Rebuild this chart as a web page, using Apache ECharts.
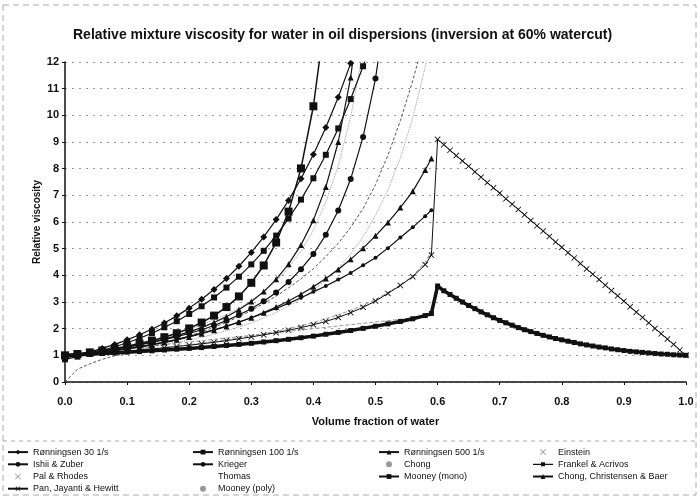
<!DOCTYPE html>
<html>
<head>
<meta charset="utf-8">
<script src="https://cdn.jsdelivr.net/npm/echarts@6/dist/echarts.min.js"></script>
<style>
  html, body { margin: 0; padding: 0; background: #fff; }
  #chart { width: 697px; height: 498px; }
</style>
</head>
<body>
<div id="chart"></div>
<script>
// volume fraction of water, water-in-oil side and oil-in-water side
const phiWO = [0, 0.02, 0.04, 0.06, 0.08, 0.1, 0.12, 0.14, 0.16, 0.18, 0.2, 0.22, 0.24, 0.26, 0.28, 0.3,
  0.32, 0.34, 0.36, 0.38, 0.4, 0.42, 0.44, 0.46, 0.48, 0.5, 0.52, 0.54, 0.56, 0.58, 0.59];
const phiOW = [0.6, 0.61, 0.62, 0.63, 0.64, 0.65, 0.66, 0.67, 0.68, 0.69, 0.7, 0.71, 0.72, 0.73, 0.74,
  0.75, 0.76, 0.77, 0.78, 0.79, 0.8, 0.81, 0.82, 0.83, 0.84, 0.85, 0.86, 0.87, 0.88, 0.89, 0.9,
  0.91, 0.92, 0.93, 0.94, 0.95, 0.96, 0.97, 0.98, 0.99, 1.0];

// relative viscosity
const ronningsen30 = [0.90, 1.01, 1.13, 1.26, 1.41, 1.58, 1.77, 1.98, 2.21, 2.48, 2.77, 3.10, 3.47, 3.88,
  4.34, 4.86, 5.44, 6.09, 6.81, 7.62, 8.53, 9.54, 10.68, 11.95, 13.37];
const ronningsen100 = [0.85, 0.95, 1.06, 1.18, 1.32, 1.47, 1.64, 1.83, 2.05, 2.28, 2.55, 2.84, 3.17, 3.54,
  3.95, 4.41, 4.92, 5.49, 6.13, 6.84, 7.64, 8.52, 9.51, 10.61, 11.84, 13.22];
const ronningsen500 = [0.95, 1.0, 1.05, 1.11, 1.17, 1.24, 1.31, 1.39, 1.48, 1.58, 1.69, 1.81, 1.94, 2.08,
  2.24, 2.41, 2.6, 2.81, 3.04, 3.29, 3.57, 3.88, 4.22, 4.6, 5.02, 5.48, 5.98, 6.54, 7.15, 7.95, 8.38];
const einstein = [1.0, 1.05, 1.1, 1.15, 1.2, 1.25, 1.3, 1.35, 1.4, 1.45, 1.5, 1.55, 1.6, 1.65, 1.7, 1.75,
  1.8, 1.85, 1.9, 1.95, 2.0, 2.05, 2.1, 2.15, 2.2, 2.25, 2.3, 2.35, 2.4, 2.45, 2.48];
const ishiiZuber = [1.0, 1.04, 1.08, 1.13, 1.19, 1.26, 1.33, 1.41, 1.5, 1.6, 1.71, 1.83, 1.96, 2.1, 2.25,
  2.41, 2.58, 2.76, 2.95, 3.16, 3.38, 3.6, 3.84, 4.09, 4.38, 4.66, 5.02, 5.42, 5.8, 6.22, 6.44];
const krieger = [1.0, 1.05, 1.11, 1.17, 1.24, 1.31, 1.39, 1.48, 1.59, 1.7, 1.82, 1.96, 2.12, 2.3, 2.51,
  2.75, 3.03, 3.36, 3.75, 4.23, 4.8, 5.52, 6.43, 7.61, 9.19, 11.38, 14.56];
const chong = [1.0, 1.03, 1.06, 1.1, 1.13, 1.17, 1.21, 1.25, 1.3, 1.35, 1.4, 1.46, 1.52, 1.58, 1.65, 1.73,
  1.81, 1.9, 2.0, 2.11, 2.23, 2.37, 2.52, 2.69, 2.88, 3.1, 3.35, 3.64, 3.98, 4.5, 4.9];
const frankelAcrivos = [0, 0.48, 0.68, 0.85, 0.98, 1.08, 1.2, 1.32, 1.45, 1.58, 1.72, 1.88, 2.05, 2.24, 2.45,
  2.68, 2.94, 3.22, 3.53, 3.87, 4.25, 4.7, 5.2, 5.8, 6.5, 7.4, 8.5, 9.8, 11.3, 13.0];
const palRhodesWO = [1.0, 1.02, 1.04, 1.07, 1.09, 1.12, 1.14, 1.17, 1.2, 1.23, 1.26, 1.29, 1.33, 1.37, 1.41,
  1.45, 1.5, 1.55, 1.6, 1.66, 1.72, 1.79, 1.86, 1.93, 2.01, 2.09, 2.18, 2.27, 2.37, 2.49, 2.57];
const palRhodesOW = [3.6, 3.42, 3.28, 3.14, 3.0, 2.87, 2.75, 2.63, 2.52, 2.41, 2.31, 2.22, 2.13, 2.04, 1.96,
  1.89, 1.82, 1.75, 1.69, 1.63, 1.58, 1.53, 1.48, 1.43, 1.39, 1.35, 1.31, 1.28, 1.24, 1.21, 1.18,
  1.15, 1.13, 1.11, 1.09, 1.07, 1.05, 1.04, 1.02, 1.01, 1.0];
const thomas = [1.0, 1.06, 1.12, 1.19, 1.28, 1.37, 1.47, 1.58, 1.7, 1.83, 1.98, 2.14, 2.33, 2.53, 2.77,
  3.05, 3.38, 3.78, 4.28, 4.9, 5.7, 6.74, 8.11, 9.94, 12.41];
const mooneyMono = [1.0, 1.05, 1.11, 1.18, 1.25, 1.34, 1.44, 1.55, 1.68, 1.83, 2.01, 2.23, 2.49, 2.81, 3.21,
  3.72, 4.37, 5.23, 6.39, 8.01, 10.34, 13.86];
const chongCB = [1.0, 1.05, 1.11, 1.17, 1.24, 1.32, 1.41, 1.5, 1.61, 1.74, 1.88, 2.04, 2.23, 2.45, 2.71,
  3.02, 3.39, 3.85, 4.42, 5.14, 6.07, 7.31, 9.0, 11.42, 15.05];
const panJHWO = [1.0, 1.03, 1.06, 1.09, 1.12, 1.16, 1.2, 1.24, 1.28, 1.33, 1.38, 1.43, 1.49, 1.55, 1.62,
  1.69, 1.77, 1.85, 1.94, 2.04, 2.15, 2.27, 2.42, 2.6, 2.8, 3.04, 3.32, 3.62, 3.95, 4.4, 4.76];
const panJHOW = [9.1, 8.9, 8.69, 8.49, 8.29, 8.09, 7.88, 7.68, 7.48, 7.28, 7.08, 6.87, 6.67, 6.47, 6.27,
  6.06, 5.86, 5.66, 5.46, 5.25, 5.05, 4.85, 4.65, 4.44, 4.24, 4.04, 3.84, 3.63, 3.43, 3.23, 3.03,
  2.82, 2.62, 2.42, 2.22, 2.01, 1.81, 1.61, 1.41, 1.2, 1.0];
const mooneyPoly = [1.0, 1.04, 1.08, 1.12, 1.17, 1.22, 1.28, 1.34, 1.41, 1.49, 1.58, 1.68, 1.79, 1.92, 2.06,
  2.22, 2.4, 2.61, 2.85, 3.12, 3.44, 3.82, 4.27, 4.8, 5.45, 6.25, 7.2, 8.4, 9.9, 11.8, 12.9];

const legendCols = [
  ['Rønningsen 30 1/s', 'Ishii & Zuber', 'Pal & Rhodes', 'Pan, Jayanti & Hewitt'],
  ['Rønningsen 100 1/s', 'Krieger', 'Thomas', 'Mooney (poly)'],
  ['Rønningsen 500 1/s', 'Chong', 'Mooney (mono)'],
  ['Einstein', 'Frankel & Acrivos', 'Chong, Christensen & Baer']
];

const FONT = 'Liberation Sans, Arial, sans-serif';
const X_MARK = 'path://M0,1L1,0L5,4L9,0L10,1L6,5L10,9L9,10L5,6L1,10L0,9L4,5Z';
const DASH_LINE = 'path://M0,4.4L8,4.4L8,3L12,3L12,4.4L20,4.4L20,5.6L12,5.6L12,7L8,7L8,5.6L0,5.6Z';

function pairs(xs, ys) {
  return ys.map((y, i) => [xs[i], y]);
}

function darkLine(name, data, symbol, size, width) {
  return {
    name: name, type: 'line', data: data,
    symbol: symbol, symbolSize: size,
    lineStyle: { color: '#111', width: width || 1.2 },
    itemStyle: { color: '#111' },
    z: 3
  };
}

function lightLine(name, data, type) {
  return {
    name: name, type: 'line', data: data,
    symbol: 'none',
    lineStyle: { color: '#9a9a9a', width: 1, type: type },
    itemStyle: { color: '#9a9a9a' },
    z: 2
  };
}

const chart = echarts.init(document.getElementById('chart'));

const series = [
  lightLine('Thomas', pairs(phiWO, thomas), 'dotted'),
  lightLine('Mooney (poly)', pairs(phiWO, mooneyPoly), 'dotted'),
  lightLine('Chong', pairs(phiWO, chong), 'dashed'),
  lightLine('Einstein', pairs(phiWO, einstein), 'dashed'),
  {
    name: 'Frankel & Acrivos', type: 'line', data: pairs(phiWO, frankelAcrivos),
    symbol: 'none',
    lineStyle: { color: '#555', width: 1, type: [3, 2] },
    itemStyle: { color: '#555' }, z: 2
  },
  darkLine('Pal & Rhodes', pairs(phiWO.concat(phiOW), palRhodesWO.concat(palRhodesOW)), 'rect', 5, 3.5),
  darkLine('Pan, Jayanti & Hewitt', pairs(phiWO.concat(phiOW), panJHWO.concat(panJHOW)), X_MARK, 6, 1),
  darkLine('Ishii & Zuber', pairs(phiWO, ishiiZuber), 'circle', 4),
  darkLine('Rønningsen 500 1/s', pairs(phiWO, ronningsen500), 'triangle', 6),
  darkLine('Chong, Christensen & Baer', pairs(phiWO, chongCB), 'triangle', 6),
  darkLine('Krieger', pairs(phiWO, krieger), 'circle', 6),
  darkLine('Rønningsen 100 1/s', pairs(phiWO, ronningsen100), 'rect', 6),
  darkLine('Rønningsen 30 1/s', pairs(phiWO, ronningsen30), 'diamond', 7),
  darkLine('Mooney (mono)', pairs(phiWO, mooneyMono), 'rect', 8, 1.5)
];

// legend icons as printed: light series show only a tiny grey mark
const lightNames = ['Thomas', 'Mooney (poly)', 'Chong', 'Einstein', 'Pal & Rhodes'];
function legendItem(name) {
  if (lightNames.indexOf(name) >= 0) {
    return {
      name: name,
      icon: name === 'Thomas' ? 'none' : (name === 'Mooney (poly)' || name === 'Chong' ? 'circle' : X_MARK),
      itemStyle: { color: '#999' },
      lineStyle: { opacity: 0 }
    };
  }
  if (name === 'Frankel & Acrivos') {
    return { name: name, icon: DASH_LINE, itemStyle: { color: '#111' } };
  }
  return { name: name };
}

const legendLeft = [7, 192, 378, 532];
const legends = legendCols.map((col, i) => ({
  orient: 'vertical',
  left: legendLeft[i],
  top: 446,
  padding: 0,
  itemWidth: 20,
  itemHeight: 6,
  itemGap: 0,
  selectedMode: false,
  textStyle: { fontFamily: FONT, fontSize: 9, color: '#111', lineHeight: 12.2 },
  data: col.map(legendItem)
}));

chart.setOption({
  animation: false,
  backgroundColor: '#fff',
  title: {
    text: 'Relative mixture viscosity for water in oil dispersions (inversion at 60% watercut)',
    left: 68,
    top: 23,
    textStyle: { fontFamily: FONT, fontSize: 14, fontWeight: 'bold', color: '#111' }
  },
  legend: legends,
  grid: { left: 65, right: 11, top: 62, bottom: 116 },
  xAxis: {
    type: 'value', min: 0, max: 1, interval: 0.1,
    name: 'Volume fraction of water', nameLocation: 'middle', nameGap: 34,
    nameTextStyle: { fontFamily: FONT, fontSize: 11, fontWeight: 'bold', color: '#111' },
    axisLine: { lineStyle: { color: '#111', width: 1.5 } },
    axisTick: { show: true, length: 3, lineStyle: { color: '#111' } },
    axisLabel: {
      fontFamily: FONT, fontSize: 11, fontWeight: 'bold', color: '#111', margin: 14,
      formatter: v => v.toFixed(1)
    },
    splitLine: { show: false }
  },
  yAxis: {
    type: 'value', min: 0, max: 12, interval: 1,
    name: 'Relative viscosity', nameLocation: 'middle', nameGap: 23, nameMoveOverlap: false,
    nameTextStyle: { fontFamily: FONT, fontSize: 10, fontWeight: 'bold', color: '#111' },
    axisLine: { show: true, lineStyle: { color: '#111', width: 1.5 } },
    axisTick: { show: true, length: 3, lineStyle: { color: '#111' } },
    axisLabel: { fontFamily: FONT, fontSize: 11, fontWeight: 'bold', color: '#111', margin: 6 },
    splitLine: { show: true, lineStyle: { color: '#999', type: [2, 5], width: 1 } }
  },
  graphic: [
    {
      type: 'rect', shape: { x: 3, y: 5, width: 693, height: 490 }, silent: true,
      style: { fill: 'none', stroke: '#aaa', lineWidth: 1, lineDash: [6, 4] }
    },
    {
      type: 'line', shape: { x1: 3, y1: 441, x2: 696, y2: 441 }, silent: true,
      style: { stroke: '#aaa', lineWidth: 1, lineDash: [4, 4] }
    }
  ],
  series: series
});
</script>
</body>
</html>
